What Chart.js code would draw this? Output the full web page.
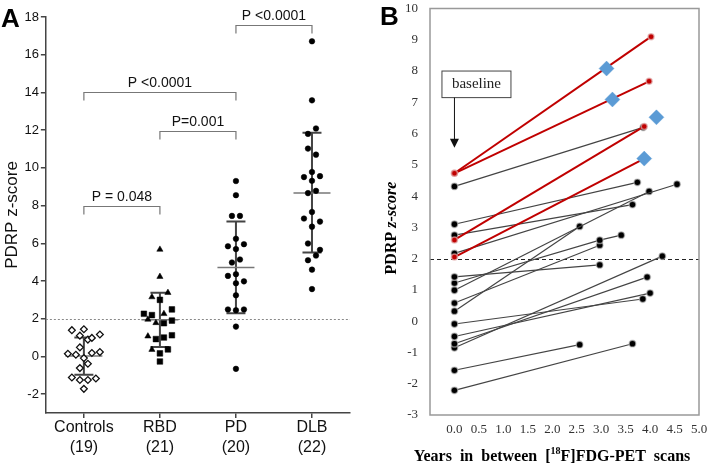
<!DOCTYPE html>
<html>
<head>
<meta charset="utf-8">
<script src="https://cdn.jsdelivr.net/npm/chart.js@4.4.1/dist/chart.umd.min.js"></script>
<style>
html, body { margin: 0; padding: 0; background: #fff; }
#wrap { position: relative; width: 708px; height: 467px; }
canvas { position: absolute; top: 0; }
#chartA { left: 0; }
#chartB { left: 360px; }
</style>
</head>
<body>
<div id="wrap">
  <canvas id="chartA" width="360" height="467"></canvas>
  <canvas id="chartB" width="348" height="467"></canvas>
</div>
<script>
// ---------- Panel A data ----------
const groups = ['Controls', 'RBD', 'PD', 'DLB'];
const groupN = ['(19)', '(21)', '(20)', '(22)'];

const controlsScores = [1.39, 1.44, 1.16, 1.10, 0.89, 0.98, 0.48, 0.14, 0.09, 0.18, 0.23, -0.09, -0.39, -0.62, -1.12, -1.25, -1.25, -1.17, -1.72];
const controlsCols = [-3, 0, 4, -1, 1, 2, -1, -4, -2, 2, 4, 0, 1, -1, -3, -1, 1, 3, 0];
const rbdTriScores = [5.67, 4.23, 3.15, 3.38, 2.26, 1.96, 1.78, 1.07, 0.36];
const rbdTriCols = [0, 0, -2, 2, 1, -3, -1, -3, -2];
const rbdSqScores = [3.0, 2.49, 2.26, 2.19, 1.9, 1.76, 0.92, 1.0, 1.12, 0.37, 0.16, -0.27];
const rbdSqCols = [0, 3, -4, -2, 3, 1, -1, 1, 3, 2, 0, 0];
const pdScores = [9.3, 8.55, 7.45, 7.45, 6.24, 5.84, 5.95, 5.69, 5.14, 4.98, 4.27, 4.36, 3.98, 3.88, 3.24, 2.49, 2.45, 2.49, 1.58, -0.66];
const pdCols = [0, 0, -1, 1, 0, -2, 2, 0, 1, -1, -2, 0, 2, 0, 0, -2, 0, 2, 0, 0];
const dlbScores = [16.71, 13.58, 12.09, 11.8, 11.02, 10.7, 9.78, 9.51, 9.56, 9.31, 8.66, 8.78, 7.66, 7.31, 7.15, 6.88, 5.99, 5.65, 5.35, 5.1, 4.6, 3.57];
const dlbCols = [0, 0, 1, -1, -1, 1, 0, -2, 2, 0, -1, 1, 0, -2, 2, 0, -1, 2, 1, -1, 0, 0];

const groupMean = [0.02, 1.94, 4.71, 8.66];
const sdUpper = [1.0, 3.38, 7.16, 11.86];
const sdLower = [-0.98, 0.5, 2.29, 5.51];

const bracketFrom = [0, 1, 0, 2];
const bracketTo = [1, 2, 2, 3];
const bracketY = [7.96, 11.96, 14.0, 17.6];
const bracketText = ['P = 0.048', 'P=0.001', 'P <0.0001', 'P <0.0001'];

const yTicksA = [-2, 0, 2, 4, 6, 8, 10, 12, 14, 16, 18];
const cutoff = 2;

// ---------- Panel B data ----------
const redStart = [4.73, 4.73, 2.6, 2.05];
const redYears = [4.02, 3.98, 3.88, 3.88];
const redEnd = [9.1, 7.67, 6.23, 5.2];
const blueYears = [3.11, 3.23, 4.13, 3.88];
const blueScores = [8.08, 7.09, 6.52, 5.2];
const blackStart = [4.31, 3.1, 2.75, 2.17, 1.42, 1.22, 0.99, 0.58, 0.32, -0.09, -0.49, -0.72, -0.85, -1.57, -2.21];
const blackYears = [3.86, 3.74, 3.64, 4.55, 2.97, 2.97, 3.98, 2.97, 2.56, 3.85, 4.0, 3.94, 4.25, 2.56, 3.64];
const blackEnd = [6.2, 4.44, 3.73, 4.38, 1.8, 2.59, 4.15, 2.43, 3.03, 0.71, 0.9, 1.41, 2.08, -0.75, -0.72];
const thirdSubject = [5];
const thirdYears = [3.41];
const thirdScores = [2.75];

const xTicksB = [0, 0.5, 1, 1.5, 2, 2.5, 3, 3.5, 4, 4.5, 5];
const yTicksB = [-3, -2, -1, 0, 1, 2, 3, 4, 5, 6, 7, 8, 9, 10];

// ---------- Panel A ----------
const colStep = 4 / 76;
function toPts(scores, cols, g) {
    return scores.map((v, i) => ({ x: g + 0.5 + cols[i] * colStep, y: v }));
}

const sansA = 'Liberation Sans, Arial, sans-serif';

const panelAPlugin = {
    id: 'panelA',
    beforeDatasetsDraw(chart) {
        const { ctx, chartArea, scales: { x, y } } = chart;
        ctx.save();
        ctx.strokeStyle = '#888';
        ctx.lineWidth = 1;
        ctx.setLineDash([2, 2]);
        const yc = Math.round(y.getPixelForValue(cutoff)) + 0.5;
        ctx.beginPath();
        ctx.moveTo(chartArea.left, yc);
        ctx.lineTo(chartArea.right, yc);
        ctx.stroke();
        ctx.setLineDash([]);
        groups.forEach((g, i) => {
            const cx = x.getPixelForValue(i + 0.5);
            const yt = y.getPixelForValue(sdUpper[i]);
            const yb = y.getPixelForValue(sdLower[i]);
            const ym = y.getPixelForValue(groupMean[i]);
            ctx.strokeStyle = '#444';
            ctx.lineWidth = 2;
            ctx.beginPath();
            ctx.moveTo(cx, yt); ctx.lineTo(cx, yb);
            ctx.moveTo(cx - 9.5, yt); ctx.lineTo(cx + 9.5, yt);
            ctx.moveTo(cx - 9.5, yb); ctx.lineTo(cx + 9.5, yb);
            ctx.stroke();
            ctx.strokeStyle = '#777';
            ctx.lineWidth = 1.5;
            ctx.beginPath();
            ctx.moveTo(cx - 18.5, ym); ctx.lineTo(cx + 18.5, ym);
            ctx.stroke();
        });
        ctx.restore();
    },
    afterDraw(chart) {
        const { ctx, scales: { x, y } } = chart;
        ctx.save();
        ctx.strokeStyle = '#777';
        ctx.lineWidth = 1.2;
        ctx.fillStyle = '#111';
        ctx.font = '14px ' + sansA;
        ctx.textAlign = 'center';
        ctx.textBaseline = 'middle';
        bracketText.forEach((t, i) => {
            const x1 = x.getPixelForValue(bracketFrom[i] + 0.5);
            const x2 = x.getPixelForValue(bracketTo[i] + 0.5);
            const yy = Math.round(y.getPixelForValue(bracketY[i])) + 0.5;
            ctx.beginPath();
            ctx.moveTo(x1, yy + 8); ctx.lineTo(x1, yy); ctx.lineTo(x2, yy); ctx.lineTo(x2, yy + 8);
            ctx.stroke();
            ctx.fillText(t, (x1 + x2) / 2, yy - 9);
        });
        ctx.font = 'bold 26px ' + sansA;
        ctx.textAlign = 'left';
        ctx.textBaseline = 'alphabetic';
        ctx.fillStyle = '#000';
        ctx.fillText('A', 1, 27);
        ctx.restore();
    }
};

new Chart(document.getElementById('chartA'), {
    type: 'scatter',
    data: {
        datasets: [
            { data: toPts(controlsScores, controlsCols, 0), pointStyle: 'rectRot', radius: 3.4, borderWidth: 1.3, borderColor: '#111', backgroundColor: '#fff' },
            { data: toPts(rbdTriScores, rbdTriCols, 1), pointStyle: 'triangle', radius: 3.6, borderWidth: 0.5, borderColor: '#000', backgroundColor: '#000' },
            { data: toPts(rbdSqScores, rbdSqCols, 1), pointStyle: 'rect', radius: 4, borderWidth: 0.5, borderColor: '#000', backgroundColor: '#000' },
            { data: toPts(pdScores, pdCols, 2), pointStyle: 'circle', radius: 2.8, borderWidth: 0.5, borderColor: '#000', backgroundColor: '#000' },
            { data: toPts(dlbScores, dlbCols, 3), pointStyle: 'circle', radius: 2.8, borderWidth: 0.5, borderColor: '#000', backgroundColor: '#000' }
        ]
    },
    options: {
        responsive: false,
        animation: false,
        layout: { padding: { left: 2, right: 10, top: 17, bottom: 10 } },
        plugins: { legend: { display: false }, tooltip: { enabled: false } },
        scales: {
            x: {
                type: 'linear', min: 0, max: 4,
                afterBuildTicks: s => { s.ticks = groups.map((g, i) => ({ value: i + 0.5 })); },
                grid: { drawOnChartArea: false, drawTicks: true, tickLength: 5, color: '#444', lineWidth: 1.5 },
                border: { color: '#444', width: 1.5 },
                ticks: {
                    autoSkip: false, maxRotation: 0, padding: 0, color: '#111',
                    font: { family: sansA, size: 16, lineHeight: 1.22 },
                    callback: (v, i) => [groups[i], groupN[i]]
                }
            },
            y: {
                type: 'linear', min: -3, max: 18,
                afterBuildTicks: s => { s.ticks = yTicksA.map(v => ({ value: v })); },
                grid: { drawOnChartArea: false, drawTicks: true, tickLength: 5, color: '#444', lineWidth: 1.5 },
                border: { color: '#444', width: 1.5 },
                ticks: { padding: 2, color: '#111', font: { family: sansA, size: 13 } },
                title: { display: true, text: 'PDRP z-score', color: '#111', padding: 0, font: { family: sansA, size: 17 } }
            }
        }
    },
    plugins: [panelAPlugin]
});

// ---------- Panel B ----------
const serif = 'Liberation Serif, Times New Roman, serif';

function seg(pts, color, width, pointColor, pointBorder, r) {
    return {
        data: pts, showLine: true, borderColor: color, borderWidth: width,
        pointRadius: r, pointBackgroundColor: pointColor, pointBorderColor: pointBorder, pointBorderWidth: 1.5
    };
}

const dsB = [];
dsB.push({
    data: blueYears.map((t, i) => ({ x: t, y: blueScores[i] })),
    showLine: false, pointStyle: 'rectRot', pointRadius: 7.5,
    pointBackgroundColor: '#5b9bd5', pointBorderColor: 'rgba(91,155,213,0.4)', pointBorderWidth: 1
});
redStart.forEach((v, i) => {
    dsB.push(seg([{ x: 0, y: v }, { x: redYears[i], y: redEnd[i] }], '#c00000', 2, '#c00000', 'rgba(225,170,170,0.7)', 3));
});
blackStart.forEach((v, i) => {
    const pts = [{ x: 0, y: v }, { x: blackYears[i], y: blackEnd[i] }];
    const k = thirdSubject.indexOf(i);
    if (k >= 0) pts.push({ x: thirdYears[k], y: thirdScores[k] });
    dsB.push(seg(pts, '#444', 1.2, '#000', 'rgba(200,200,200,0.6)', 3.4));
});

const panelBPlugin = {
    id: 'panelB',
    beforeDatasetsDraw(chart) {
        const { ctx, chartArea, scales: { y } } = chart;
        ctx.save();
        ctx.strokeStyle = '#222';
        ctx.lineWidth = 1.2;
        ctx.setLineDash([4, 3]);
        const yc = Math.round(y.getPixelForValue(cutoff)) + 0.5;
        ctx.beginPath();
        ctx.moveTo(chartArea.left, yc);
        ctx.lineTo(chartArea.right, yc);
        ctx.stroke();
        ctx.restore();
    },
    afterDraw(chart) {
        const { ctx, chartArea, scales: { x, y } } = chart;
        ctx.save();
        // frame
        ctx.strokeStyle = '#999';
        ctx.lineWidth = 1.5;
        ctx.strokeRect(chartArea.left, chartArea.top, chartArea.right - chartArea.left, chartArea.bottom - chartArea.top);

        // baseline note
        const x0 = x.getPixelForValue(0);
        const top = y.getPixelForValue(8.0);
        const bottom = y.getPixelForValue(7.15);
        ctx.fillStyle = '#fff';
        ctx.fillRect(x0 - 12.5, top, 69, bottom - top);
        ctx.strokeStyle = '#444';
        ctx.lineWidth = 1;
        ctx.strokeRect(x0 - 12.5, top, 69, bottom - top);
        ctx.fillStyle = '#222';
        ctx.font = '15px ' + serif;
        ctx.textAlign = 'center';
        ctx.textBaseline = 'middle';
        ctx.fillText('baseline', x0 - 12.5 + 34.5, (top + bottom) / 2);
        const tip = y.getPixelForValue(5.55);
        ctx.strokeStyle = '#111';
        ctx.beginPath();
        ctx.moveTo(x0, bottom);
        ctx.lineTo(x0, tip - 8);
        ctx.stroke();
        ctx.fillStyle = '#111';
        ctx.beginPath();
        ctx.moveTo(x0 - 4.5, tip - 9);
        ctx.lineTo(x0 + 4.5, tip - 9);
        ctx.lineTo(x0, tip);
        ctx.closePath();
        ctx.fill();

        // y title
        ctx.fillStyle = '#000';
        ctx.save();
        ctx.translate(32, 228);
        ctx.rotate(-Math.PI / 2);
        ctx.textAlign = 'left';
        ctx.textBaseline = 'middle';
        const f1 = 'bold 16px ' + serif, f2 = 'italic bold 16px ' + serif;
        ctx.font = f1; const w1 = ctx.measureText('PDRP ').width;
        ctx.font = f2; const w2 = ctx.measureText('z-score').width;
        let sx = -(w1 + w2) / 2;
        ctx.font = f1; ctx.fillText('PDRP ', sx, 0);
        ctx.font = f2; ctx.fillText('z-score', sx + w1, 0);
        ctx.restore();

        // x title with superscript
        const parts = [['Years  in  between  [', 'bold 16px ', 0], ['18', 'bold 10px ', -6], ['F]FDG-PET  scans', 'bold 16px ', 0]];
        let total = 0;
        parts.forEach(p => { ctx.font = p[1] + serif; p.push(ctx.measureText(p[0]).width); total += p[3]; });
        let px = 192 - total / 2;
        ctx.textAlign = 'left';
        ctx.textBaseline = 'middle';
        parts.forEach(p => { ctx.font = p[1] + serif; ctx.fillText(p[0], px, 457 + p[2]); px += p[3]; });

        // panel letter
        ctx.font = 'bold 26px ' + sansA;
        ctx.textBaseline = 'alphabetic';
        ctx.fillText('B', 20, 25);
        ctx.restore();
    }
};

new Chart(document.getElementById('chartB'), {
    type: 'scatter',
    data: { datasets: dsB },
    options: {
        responsive: false,
        animation: false,
        layout: { padding: { left: 45, right: 9, top: 8, bottom: 29 } },
        plugins: { legend: { display: false }, tooltip: { enabled: false } },
        scales: {
            x: {
                type: 'linear', min: -0.5, max: 5,
                afterBuildTicks: s => { s.ticks = xTicksB.map(v => ({ value: v })); },
                afterFit: s => { s.height = 23; s.paddingLeft = 0; s.paddingRight = 0; },
                grid: { display: false, drawTicks: false, tickLength: 0 },
                border: { display: false },
                ticks: { autoSkip: false, maxRotation: 0, padding: 7, color: '#333', font: { family: serif, size: 13 }, callback: v => v.toFixed(1) }
            },
            y: {
                type: 'linear', min: -3, max: 10,
                afterBuildTicks: s => { s.ticks = yTicksB.map(v => ({ value: v })); },
                afterFit: s => { s.width = 25; s.paddingTop = 0; s.paddingBottom = 0; },
                grid: { display: false, drawTicks: false, tickLength: 0 },
                border: { display: false },
                ticks: { padding: 12, color: '#333', font: { family: serif, size: 13 }, callback: v => String(v) }
            }
        }
    },
    plugins: [panelBPlugin]
});
</script>
</body>
</html>
